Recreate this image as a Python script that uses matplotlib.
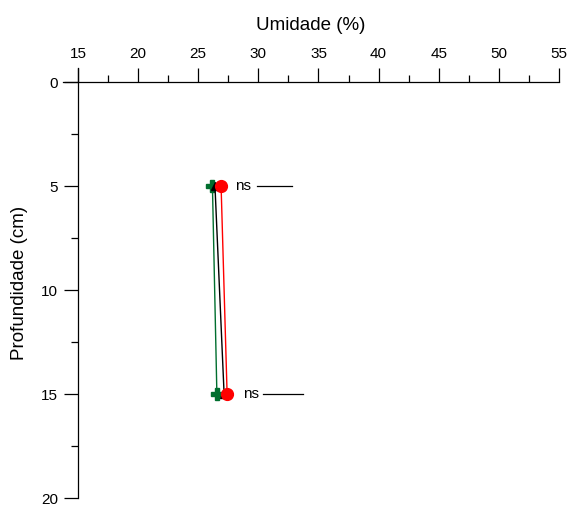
import matplotlib
matplotlib.use("Agg")
import matplotlib.pyplot as plt
from matplotlib.ticker import MultipleLocator

plt.rcParams['font.family'] = ['Liberation Sans', 'DejaVu Sans']

depth = [5, 15]
moist_green = [26.18, 26.55]
moist_black = [26.39, 27.15]
moist_red = [26.9, 27.4]

sig_labels = ["ns", "ns"]
sig_text_x = [28.1, 28.7]
sig_line_x = [(29.85, 32.8), (30.35, 33.7)]

xticks = [15, 20, 25, 30, 35, 40, 45, 50, 55]
yticks = [0, 5, 10, 15, 20]

W, H = 569, 505
fig = plt.figure(figsize=(W / 100, H / 100), dpi=100)
ax = fig.add_axes([63 / W, 1 - 498 / H, (559 - 63) / W, (498 - 68) / H])

ax.plot(moist_green, depth, color='#006e2e', lw=1.0, marker='P', ms=8,
        mec='#006e2e', mfc='#006e2e', zorder=3)
ax.plot(moist_black, depth, color='black', lw=1.0, marker='^', ms=6,
        mec='black', mfc='black', zorder=4)
ax.plot(moist_red, depth, color='#ff0000', lw=1.0, marker='o', ms=8.5,
        mec='#ff0000', mfc='#ff0000', zorder=5)

for d, lab, tx, (x0, x1) in zip(depth, sig_labels, sig_text_x, sig_line_x):
    ax.text(tx, d, lab, ha='left', va='center', fontsize=11)
    ax.plot([x0, x1], [d, d], color='black', lw=0.9)

ax.set_xlim(15 - 15 / 12.03, 55)
ax.set_ylim(20, -14 / 20.8)

ax.spines['right'].set_visible(False)
ax.spines['bottom'].set_visible(False)
ax.spines['top'].set_position(('data', 0))
ax.spines['left'].set_position(('data', 15))
for s in ('top', 'left'):
    ax.spines[s].set_linewidth(0.9)

ax.xaxis.tick_top()
ax.xaxis.set_label_position('top')
ax.set_xticks(xticks)
ax.xaxis.set_minor_locator(MultipleLocator(2.5))
ax.set_yticks(yticks)
ax.yaxis.set_minor_locator(MultipleLocator(2.5))

ax.tick_params(axis='x', which='major', direction='out', length=10, width=0.9,
               labelsize=11, pad=5)
ax.tick_params(axis='x', which='minor', direction='out', length=5, width=0.9)
ax.tick_params(axis='y', which='major', direction='out', length=10, width=0.9,
               labelsize=11, pad=4.5)
ax.tick_params(axis='y', which='minor', direction='out', length=5, width=0.9)

ax.set_xlabel("Umidade (%)", fontsize=13.5, labelpad=12.5)
ax.set_ylabel("Profundidade (cm)", fontsize=13.5, labelpad=9.5)

fig.savefig("out.png", dpi=100)
